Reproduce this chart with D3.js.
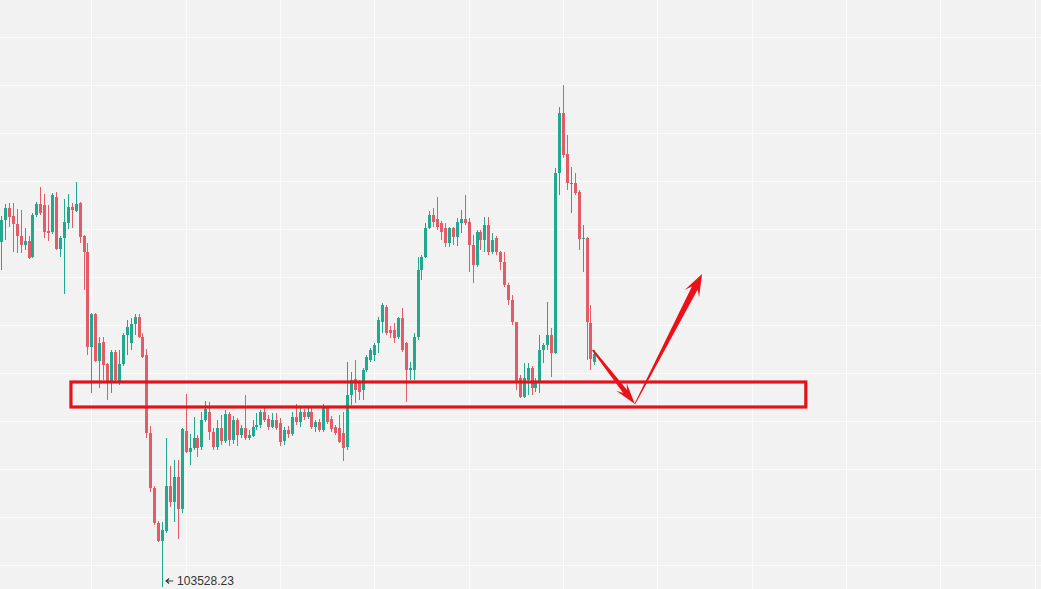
<!DOCTYPE html>
<html lang="en">
<head>
<meta charset="UTF-8">
<title>candles</title>
<script src="https://cdn.jsdelivr.net/npm/d3@7/dist/d3.min.js"></script>
<style>
    html, body { margin: 0; padding: 0; background: #f2f2f2; overflow: hidden; }
    svg { display: block; }
    .grid line { stroke: #fcfcfc; stroke-width: 1.3; shape-rendering: crispEdges; }
    .low-label { font-family: "Liberation Sans", Arial, sans-serif; font-size: 12px; fill: #333; }
</style>
</head>
<body>
<svg id="chart" width="1041" height="589"></svg>
<script>
// OHLC, one candle per slot (oldest first)
var opens = [106980,107200,107320,107240,107160,107040,106950,106990,106830,107250,
    107360,107350,107090,107080,107430,106910,107020,107170,107330,107290,
    107370,107040,106880,105930,106260,105790,105980,105760,105590,105880,
    105590,105760,106050,105970,106160,106230,106030,105850,105070,104520,
    104170,103990,104090,104540,104380,104630,104310,105090,104880,104920,
    105020,104930,105200,105280,105080,104930,105120,104990,105260,105000,
    105200,105050,105120,105020,105040,105130,105150,105280,105210,105130,
    105200,105170,104990,105100,105060,105230,105180,105280,105230,105280,
    105130,105180,105100,105320,105210,105130,105120,105070,104930,105450,
    105610,105580,105500,105700,105800,105850,105970,106180,106330,106100,
    106100,106030,106220,105970,105700,105700,106030,106700,106830,107120,
    107250,107210,107170,107120,106970,107120,107030,107170,107210,107180,
    106950,106750,107080,107000,107150,106880,107020,106880,106780,106550,
    106400,106180,105620,105430,105600,105720,105520,105570,105900,105950,
    106050,105870,107670,108270,107860,107560,107570,107480,107010,107020,
    106170,105780];
var highs = [107240,107360,107370,107370,107310,107300,107120,107040,107270,107380,
    107530,107460,107350,107470,107480,107040,107410,107460,107370,107580,
    107380,107050,106970,106270,106270,106030,106030,105770,105900,105900,
    105900,106070,106200,106220,106260,106260,106070,105910,105140,104540,
    104190,104180,105020,104740,104800,104800,105120,105460,105060,105230,
    105050,105280,105390,105380,105120,105200,105250,105300,105280,105240,
    105220,105150,105450,105100,105200,105270,105300,105320,105250,105270,
    105270,105220,105130,105140,105280,105360,105320,105310,105320,105320,
    105200,105210,105360,105340,105240,105150,105250,105280,105780,105680,
    105800,105600,105720,105850,105920,105970,106230,106370,106350,106140,
    106170,106230,106320,105980,105780,106070,106830,106850,107170,107290,
    107320,107430,107190,107170,107130,107130,107220,107300,107450,107220,
    107050,107100,107100,107230,107230,107070,107040,106890,106880,106570,
    106450,106180,105650,105770,105770,105740,105620,106050,105970,106380,
    106120,107720,108330,108550,108050,107730,107670,107500,107150,107030,
    106350,105900];
var lows = [106700,107000,107130,106880,106870,106870,106900,106810,106820,107230,
    107250,107020,106990,107060,106900,106830,106460,107110,107120,107280,
    106970,106500,105850,105470,105780,105520,105600,105400,105470,105580,
    105550,105740,105850,105900,106050,106020,105820,105020,104480,104150,
    103980,103528.23,104070,104330,104180,104010,104270,104870,104750,104900,
    104830,104900,105180,105000,104900,104900,104950,104970,104940,104960,
    104940,105020,105000,105000,105030,105100,105120,105180,105100,105120,
    105100,104940,104950,105020,105040,105150,105130,105200,105210,105110,
    105080,105080,105080,105160,105080,105050,104970,104790,104900,105350,
    105370,105400,105400,105680,105780,105790,105870,106070,106050,106020,
    105970,106010,105880,105380,105600,105600,106000,106600,106820,107110,
    107130,107100,107000,106930,106930,106950,106940,107070,107150,106680,
    106570,106730,106900,106880,106850,106860,106850,106700,106530,106350,
    106150,105500,105420,105420,105450,105450,105480,105470,105770,105900,
    105630,105860,107450,107820,107500,107270,107450,106900,106680,105800,
    105700,105750];
var closes = [107200,107320,107230,107160,107040,106950,106990,106820,107250,107360,
    107270,107080,107070,107450,106910,107020,107180,107330,107300,107360,
    107030,106880,105930,106260,105790,105970,105750,105590,105880,105600,
    105760,106050,106130,106160,106230,106030,105830,105070,104520,104170,
    103990,104100,104540,104380,104630,104310,105110,104880,104920,105020,
    104920,105200,105310,105080,104930,105120,104990,105260,105000,105200,
    105050,105120,105020,105050,105130,105150,105280,105200,105130,105200,
    105120,104980,105100,105060,105230,105180,105280,105230,105280,105130,
    105180,105100,105320,105180,105110,105070,104980,104920,105450,105600,
    105500,105480,105700,105830,105900,105950,106200,106350,106070,106070,
    106020,106220,105900,105700,105720,106030,106700,106830,107120,107250,
    107180,107130,107080,106970,107120,107030,107180,107210,107170,106950,
    106750,107080,107000,107150,106880,107000,106880,106780,106550,106400,
    106180,105570,105430,105620,105720,105520,105580,105900,105950,106050,
    105870,107670,108270,107850,107570,107570,107470,107010,107020,106180,
    105810,105860];

// horizontal grid levels and vertical grid slots
var gridPrices = d3.range(0, 12).map(function(k) { return 103750 + 480 * k; });
var gridSlots = d3.range(23, 270, 24);

// support zone and the two arrows, in slot / price units
var zone = { from: 17.8, to: 204.8, top: 105580, bottom: 105330 };
var arrows = [
    { x1: 150.6, p1: 105900, x2: 161.3, p2: 105360, w0: 2, w1: 5, head: 22, headW: 13 },
    { x1: 161.3, p1: 105360, x2: 178.4, p2: 106660, w0: 0.8, w1: 6.5, head: 22, headW: 16 }
];

var width = 1041, height = 589;
var upColor = "#22a88f", downColor = "#e25c68";

var svg = d3.select("#chart");

var x = d3.scaleLinear().domain([0, 151]).range([1, 594.4]);
var y = d3.scaleLinear().domain([109400 - 10 * height, 109400]).range([height, 0]);

svg.append("rect").attr("width", width).attr("height", height).attr("fill", "#f2f2f2");

var grid = svg.append("g").attr("class", "grid");
grid.selectAll("line.h").data(gridPrices).enter().append("line")
    .attr("class", "h")
    .attr("x1", 0).attr("x2", width)
    .attr("y1", function(d) { return Math.round(y(d)) + 0.5; })
    .attr("y2", function(d) { return Math.round(y(d)) + 0.5; });
grid.selectAll("line.v").data(gridSlots).enter().append("line")
    .attr("class", "v")
    .attr("y1", 0).attr("y2", height)
    .attr("x1", function(d) { return Math.round(x(d)) + 0.5; })
    .attr("x2", function(d) { return Math.round(x(d)) + 0.5; });

var candles = opens.map(function(o, i) {
    return { i: i, o: o, h: highs[i], l: lows[i], c: closes[i] };
});

var g = svg.append("g").attr("class", "candles");
var bodyW = 3;

g.selectAll("line.wick").data(candles).enter().append("line")
    .attr("class", "wick")
    .attr("x1", function(d) { return Math.round(x(d.i)) + 0.5; })
    .attr("x2", function(d) { return Math.round(x(d.i)) + 0.5; })
    .attr("y1", function(d) { return y(d.h); })
    .attr("y2", function(d) { return y(d.l); })
    .attr("stroke", function(d) { return d.c >= d.o ? upColor : downColor; })
    .attr("stroke-width", 1);

g.selectAll("rect.body").data(candles).enter().append("rect")
    .attr("class", "body")
    .attr("x", function(d) { return Math.round(x(d.i)) + 0.5 - bodyW / 2; })
    .attr("width", bodyW)
    .attr("y", function(d) { return y(Math.max(d.o, d.c)); })
    .attr("height", function(d) { return Math.max(1, Math.abs(y(d.o) - y(d.c))); })
    .attr("fill", function(d) { return d.c >= d.o ? upColor : downColor; });

// lowest low marker, kept just inside the bottom edge
var lowIdx = d3.minIndex(lows);
var lx = x(lowIdx) + 4, ly = Math.min(y(lows[lowIdx]), height - 8);
svg.append("path")
    .attr("d", "M" + (lx + 7) + "," + ly + "H" + (lx + 1) + "M" + (lx + 3) + "," + (ly - 2.5) + "L" + lx + "," + ly + "L" + (lx + 3) + "," + (ly + 2.5))
    .attr("stroke", "#333").attr("stroke-width", 1.2).attr("fill", "none");
svg.append("text")
    .attr("class", "low-label")
    .attr("x", lx + 11)
    .attr("y", ly + 4)
    .text(d3.format(".2f")(lows[lowIdx]));

// support zone
svg.append("rect")
    .attr("x", x(zone.from))
    .attr("y", y(zone.top))
    .attr("width", x(zone.to) - x(zone.from))
    .attr("height", y(zone.bottom) - y(zone.top))
    .attr("fill", "none")
    .attr("stroke", "#e0141a")
    .attr("stroke-width", 3.2);

function arrowPath(a) {
    var ax = x(a.x1), ay = y(a.p1), bx = x(a.x2), by = y(a.p2);
    var len = Math.hypot(bx - ax, by - ay);
    var ux = (bx - ax) / len, uy = (by - ay) / len;
    var nx = -uy, ny = ux;
    var neck = a.head * 0.72;
    var pts = [
        [ax + nx * a.w0 / 2, ay + ny * a.w0 / 2],
        [bx - ux * neck + nx * a.w1 / 2, by - uy * neck + ny * a.w1 / 2],
        [bx - ux * a.head + nx * a.headW / 2, by - uy * a.head + ny * a.headW / 2],
        [bx, by],
        [bx - ux * a.head - nx * a.headW / 2, by - uy * a.head - ny * a.headW / 2],
        [bx - ux * neck - nx * a.w1 / 2, by - uy * neck - ny * a.w1 / 2],
        [ax - nx * a.w0 / 2, ay - ny * a.w0 / 2]
    ];
    return d3.line()(pts) + "Z";
}

svg.selectAll("path.arrow").data(arrows).enter().append("path")
    .attr("class", "arrow")
    .attr("d", arrowPath)
    .attr("fill", "#ea1218");
</script>
</body>
</html>
